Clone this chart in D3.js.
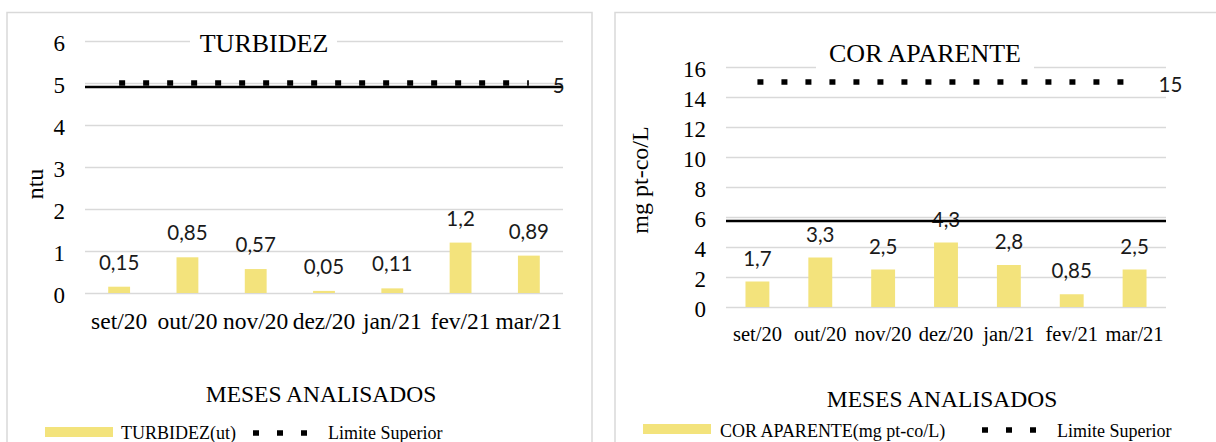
<!DOCTYPE html>
<html>
<head>
<meta charset="utf-8">
<script src="https://cdn.jsdelivr.net/npm/d3@7"></script>
<style>
  body { margin: 0; background: #fff; }
  svg { display: block; }
</style>
</head>
<body>
<svg id="chart" width="1216" height="442"></svg>
<script>
const months = ["set/20", "out/20", "nov/20", "dez/20", "jan/21", "fev/21", "mar/21"];

const turbidez = [0.15, 0.85, 0.57, 0.05, 0.11, 1.2, 0.89];
const turbidezLimite = [5, 5, 5, 5, 5, 5, 5];
const turbidezTicks = [0, 1, 2, 3, 4, 5, 6];
const turbidezRefLine = 5;

const corAparente = [1.7, 3.3, 2.5, 4.3, 2.8, 0.85, 2.5];
const corLimite = [15, 15, 15, 15, 15, 15, 15];
const corTicks = [0, 2, 4, 6, 8, 10, 12, 14, 16];
const corRefLine = 6;

const serif = '"Liberation Serif", "Times New Roman", serif';
const sans = 'Lato, "Open Sans", sans-serif';
const barColor = '#f3e37c';
const gridColor = '#d9d9d9';
const dash = '6 18';

const svg = d3.select('#chart');
const fmt = d => String(d).replace('.', ',');

const panels = [
  {
    frameX: 7, frameW: 585,
    left: 85, right: 563, top: 41, bottom: 293,
    yMax: 6, ticks: turbidezTicks, values: turbidez, limit: turbidezLimite, refLine: turbidezRefLine,
    pad: 0.68, xFont: 23.5, labelGap: 17,
    title: 'TURBIDEZ', titleX: 264, titleY: 52, titleBox: [190, 28, 147, 30],
    xTitleX: 321, xTitleY: 402,
    yTitle: 'ntu', yTitleX: 43, yTitleY: 184,
    legend: { swatchX: 45, swatchY: 427, text1: 'TURBIDEZ(ut)', text1X: 121, baseY: 439, lineX: 253, lineY: 433, text2X: 328 }
  },
  {
    frameX: 615, frameW: 620,
    left: 726, right: 1166, top: 67, bottom: 307,
    yMax: 16, ticks: corTicks, values: corAparente, limit: corLimite, refLine: corRefLine,
    pad: 0.62, xFont: 20.5, labelGap: 16,
    title: 'COR APARENTE', titleX: 925, titleY: 62, titleBox: [816, 36, 218, 33],
    xTitleX: 942, xTitleY: 407,
    yTitle: 'mg pt-co/L', yTitleX: 648, yTitleY: 180,
    legend: { swatchX: 643, swatchY: 424, text1: 'COR APARENTE(mg pt-co/L)', text1X: 720, baseY: 437, lineX: 982, lineY: 430, text2X: 1057 }
  }
];

panels.forEach(drawPanel);

function drawPanel(p) {
  // frame
  svg.append('rect')
    .attr('x', p.frameX).attr('y', 12.5)
    .attr('width', p.frameW).attr('height', 520)
    .attr('fill', 'none').attr('stroke', gridColor).attr('stroke-width', 1.5);

  const y = d3.scaleLinear().domain([0, p.yMax]).range([p.bottom, p.top]);
  const x = d3.scaleBand().domain(months).range([p.left, p.right])
    .paddingInner(p.pad).paddingOuter(p.pad / 2);
  const cx = m => x(m) + x.bandwidth() / 2;

  // gridlines
  svg.append('g')
    .attr('transform', `translate(${p.left},0)`)
    .call(d3.axisLeft(y).tickValues(p.ticks).tickSize(-(p.right - p.left)).tickFormat(''))
    .call(g => g.select('.domain').remove())
    .selectAll('line')
    .attr('stroke', gridColor).attr('stroke-width', 1.5);

  // y tick labels
  const yAxis = svg.append('g')
    .attr('transform', `translate(${p.left},0)`)
    .call(d3.axisLeft(y).tickValues(p.ticks).tickFormat(d3.format('d')).tickSize(0).tickPadding(20));
  yAxis.select('.domain').remove();
  yAxis.attr('font-family', serif).attr('font-size', 23);
  yAxis.selectAll('text')
    .style('font-family', serif).style('font-size', '23px')
    .attr('fill', '#000').attr('dy', '0.4em');

  // x tick labels
  const xAxis = svg.append('g')
    .attr('transform', `translate(0,${p.bottom})`)
    .call(d3.axisBottom(x).tickSize(0).tickPadding(19));
  xAxis.select('.domain').remove();
  xAxis.attr('font-family', serif).attr('font-size', p.xFont);
  xAxis.selectAll('text')
    .style('font-family', serif).style('font-size', p.xFont + 'px')
    .attr('fill', '#000');

  // title with white box over the top gridline
  svg.append('rect')
    .attr('x', p.titleBox[0]).attr('y', p.titleBox[1])
    .attr('width', p.titleBox[2]).attr('height', p.titleBox[3])
    .attr('fill', '#fff');
  svg.append('text')
    .attr('x', p.titleX).attr('y', p.titleY)
    .attr('text-anchor', 'middle')
    .attr('font-family', serif).attr('font-size', 26)
    .text(p.title);

  // bars
  svg.append('g').selectAll('rect')
    .data(p.values)
    .join('rect')
    .attr('x', (d, i) => x(months[i]))
    .attr('y', d => y(d))
    .attr('width', x.bandwidth())
    .attr('height', d => y(0) - y(d))
    .attr('fill', barColor);

  // bar labels
  svg.append('g').selectAll('text')
    .data(p.values)
    .join('text')
    .attr('x', (d, i) => cx(months[i]))
    .attr('y', d => y(d) - p.labelGap)
    .attr('text-anchor', 'middle')
    .attr('font-family', sans).attr('font-size', 20.5).attr('fill', '#1a1a1a')
    .text(fmt);

  // limit series (square dots)
  const line = d3.line()
    .x((d, i) => cx(months[i]))
    .y(d => y(d));
  svg.append('path')
    .datum(p.limit)
    .attr('d', line)
    .attr('fill', 'none')
    .attr('stroke', '#000')
    .attr('stroke-width', 5.5)
    .attr('stroke-dasharray', dash);

  // solid reference line
  svg.append('line')
    .attr('x1', p.left).attr('x2', p.right)
    .attr('y1', y(p.refLine) + 4).attr('y2', y(p.refLine) + 4)
    .attr('stroke', '#000').attr('stroke-width', 2.5);

  // label for last limit point
  const last = p.limit.length - 1;
  svg.append('text')
    .attr('x', cx(months[last]) + 24)
    .attr('y', y(p.limit[last]) + 10)
    .attr('font-family', sans).attr('font-size', 20.5).attr('fill', '#1a1a1a')
    .text(fmt(p.limit[last]));

  // axis titles
  svg.append('text')
    .attr('x', p.xTitleX).attr('y', p.xTitleY)
    .attr('text-anchor', 'middle')
    .attr('font-family', serif).attr('font-size', 23.5)
    .text('MESES ANALISADOS');
  svg.append('text')
    .attr('transform', `translate(${p.yTitleX},${p.yTitleY}) rotate(-90)`)
    .attr('text-anchor', 'middle')
    .attr('font-family', serif).attr('font-size', 24)
    .text(p.yTitle);

  // legend
  const lg = p.legend;
  svg.append('rect')
    .attr('x', lg.swatchX).attr('y', lg.swatchY)
    .attr('width', 68).attr('height', 10)
    .attr('fill', barColor);
  svg.append('text')
    .attr('x', lg.text1X).attr('y', lg.baseY)
    .attr('font-family', serif).attr('font-size', 18)
    .text(lg.text1);
  svg.append('line')
    .attr('x1', lg.lineX).attr('x2', lg.lineX + 56)
    .attr('y1', lg.lineY).attr('y2', lg.lineY)
    .attr('stroke', '#000').attr('stroke-width', 5.5)
    .attr('stroke-dasharray', dash);
  svg.append('text')
    .attr('x', lg.text2X).attr('y', lg.baseY)
    .attr('font-family', serif).attr('font-size', 18)
    .text('Limite Superior');
}
</script>
</body>
</html>
